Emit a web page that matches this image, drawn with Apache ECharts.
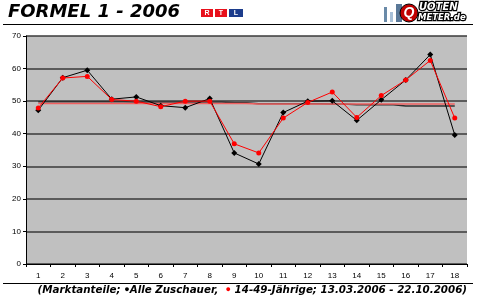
<!DOCTYPE html>
<html><head><meta charset="utf-8">
<script src="https://cdn.jsdelivr.net/npm/echarts@6/dist/echarts.min.js"></script>
<style>html,body{margin:0;padding:0;background:#fff}#c{width:480px;height:300px}</style>
</head><body><div id="c"></div>
<script>
var categories = ['1','2','3','4','5','6','7','8','9','10','11','12','13','14','15','16','17','18'];
var alleZuschauer = [47.2,57.2,59.5,50.6,51.3,48.6,48.0,50.8,34.1,30.7,46.5,50.0,50.1,44.1,50.4,56.5,64.3,39.6];
var jaehrige = [47.9,57.1,57.6,50.5,50.0,48.3,50.0,50.0,36.9,34.1,44.8,49.6,52.8,45.0,51.7,56.5,62.5,44.8];
var alleAvg = [49.8,49.8,49.8,49.8,49.7,49.7,49.7,49.7,49.5,49.2,49.2,49.2,49.1,48.9,48.9,48.5,48.5,48.5];
var jaehrigeAvg = [49.3,49.3,49.3,49.3,49.3,49.3,49.3,49.3,49.3,49.1,49.1,49.1,49.1,49.1,49.1,49.1,49.1,49.1];
var yTicks = [0,10,20,30,40,50,60,70];

var chart = echarts.init(document.getElementById('c'), null, {renderer:'canvas'});
chart.setOption({
  animation:false,
  backgroundColor:'#fff',
  grid:{left:26,right:13,top:36,bottom:36,show:true,backgroundColor:'#c0c0c0',borderWidth:0},
  xAxis:{type:'category',data:categories,boundaryGap:true,
    axisLine:{lineStyle:{color:'#000',width:1}},
    axisTick:{show:true,length:3,lineStyle:{color:'#000'}},
    axisLabel:{fontFamily:'Arial, Liberation Sans',fontSize:8,color:'#000',margin:8}},
  yAxis:{type:'value',min:0,max:70,interval:10,
    axisLine:{show:true,lineStyle:{color:'#000',width:1}},
    axisTick:{show:true,length:3,lineStyle:{color:'#000'}},
    axisLabel:{fontFamily:'Arial, Liberation Sans',fontSize:8,color:'#000',margin:5,
      formatter:function(v){return yTicks.indexOf(v)>=0?String(v):'';}},
    splitLine:{show:true,lineStyle:{color:'#3a3a3a',width:1.5}}},
  series:[
    {type:'line',data:alleAvg,step:'middle',symbol:'none',lineStyle:{color:'#303030',width:1.5},z:1},
    {type:'line',data:jaehrigeAvg,step:'middle',symbol:'none',lineStyle:{color:'#f06060',width:1.5},z:1},
    {type:'line',data:alleZuschauer,symbol:'diamond',symbolSize:6,itemStyle:{color:'#000'},lineStyle:{color:'#000',width:1},z:3},
    {type:'line',data:jaehrige,symbol:'circle',symbolSize:5,itemStyle:{color:'#ff0000'},lineStyle:{color:'#ff0000',width:1},z:4}
  ],
  graphic:[
    {type:'text',left:8,top:3,style:{text:'FORMEL 1 - 2006',font:'italic 900 18px "DejaVu Sans", Arial',fill:'#000'}},
    {type:'line',shape:{x1:3,y1:24.5,x2:473,y2:24.5},style:{stroke:'#000',lineWidth:1}},
    {type:'rect',shape:{x:201,y:9,width:12,height:8},style:{fill:'#e8101c'}},
    {type:'rect',shape:{x:215,y:9,width:12,height:8},style:{fill:'#e8101c'}},
    {type:'rect',shape:{x:229,y:9,width:14,height:8},style:{fill:'#1c3c8c'}},
    {type:'text',x:207,y:13,style:{text:'R',font:'bold 7px Arial',fill:'#fff',align:'center',verticalAlign:'middle'}},
    {type:'text',x:221,y:13,style:{text:'T',font:'bold 7px Arial',fill:'#fff',align:'center',verticalAlign:'middle'}},
    {type:'text',x:236,y:13,style:{text:'L',font:'bold 7px Arial',fill:'#fff',align:'center',verticalAlign:'middle'}},
    {type:'rect',shape:{x:384,y:7,width:3,height:15},style:{fill:'#6a8aa8'}},
    {type:'rect',shape:{x:390,y:12,width:3,height:10},style:{fill:'#a8c0d8'}},
    {type:'rect',shape:{x:396,y:4,width:6,height:18},style:{fill:'#5a7898'}},
    {type:'circle',shape:{cx:409,cy:13,r:9},style:{fill:'#c00000',stroke:'#000',lineWidth:1}},
    {type:'text',x:409,y:13,style:{text:'Q',font:'italic 900 14px Arial',fill:'#fff',align:'center',verticalAlign:'middle'}},
    {type:'text',x:419,y:2,style:{text:'UOTEN',font:'italic 900 10px "DejaVu Sans"',fill:'#fff',stroke:'#000',lineWidth:2.5}},
    {type:'text',x:418,y:13,style:{text:'METER.de',font:'italic 900 8.5px "DejaVu Sans"',fill:'#fff',stroke:'#000',lineWidth:2.5}},
    {type:'line',shape:{x1:3,y1:283.5,x2:473,y2:283.5},style:{stroke:'#000',lineWidth:1}},
    {type:'text',right:13,top:285,style:{rich:{
        t:{font:'italic bold 10.3px "DejaVu Sans", Arial',fill:'#000'},
        b:{font:'bold 9px Arial',fill:'#000'},
        r:{font:'bold 9px Arial',fill:'#ff0000'}},
      text:'{t|(Marktanteile; }{b|●}{t|Alle Zuschauer,  }{r|●}{t| 14-49-Jährige; 13.03.2006 - 22.10.2006)}'}}
  ]
});
</script></body></html>
